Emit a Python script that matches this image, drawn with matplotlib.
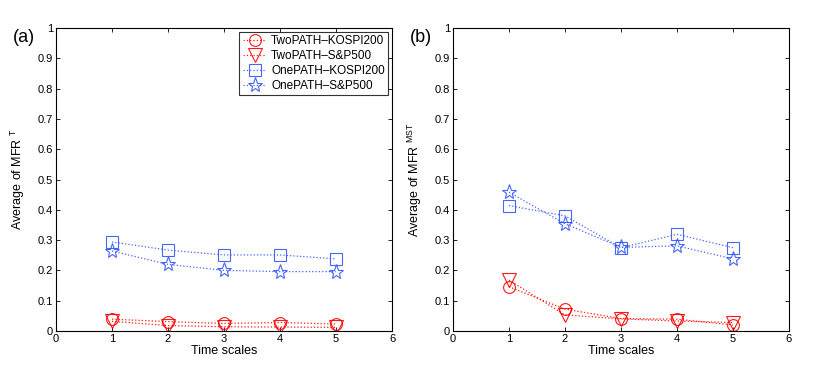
import matplotlib
matplotlib.use("Agg")
import matplotlib.pyplot as plt

plt.rcParams['font.family'] = ['Liberation Sans', 'DejaVu Sans']

scales = [1, 2, 3, 4, 5]
xticks = [0, 1, 2, 3, 4, 5, 6]
yticks = [0, 0.1, 0.2, 0.3, 0.4, 0.5, 0.6, 0.7, 0.8, 0.9, 1]
ytick_labels = ['0', '0.1', '0.2', '0.3', '0.4', '0.5', '0.6', '0.7', '0.8', '0.9', '1']

series_names = ['TwoPATH\u2013KOSPI200', 'TwoPATH\u2013S&P500',
                'OnePATH\u2013KOSPI200', 'OnePATH\u2013S&P500']

# panel (a): MFR^T
a_two_kospi = [0.039, 0.031, 0.025, 0.028, 0.023]
a_two_sp = [0.032, 0.018, 0.014, 0.013, 0.012]
a_one_kospi = [0.294, 0.267, 0.251, 0.251, 0.238]
a_one_sp = [0.264, 0.220, 0.200, 0.196, 0.196]

# panel (b): MFR^MST
b_two_kospi = [0.146, 0.072, 0.041, 0.039, 0.020]
b_two_sp = [0.168, 0.053, 0.040, 0.033, 0.028]
b_one_kospi = [0.414, 0.380, 0.275, 0.319, 0.275]
b_one_sp = [0.458, 0.354, 0.276, 0.281, 0.238]

styles = [
    dict(color='red', marker='o', ms=8.5),
    dict(color='red', marker='v', ms=9.5),
    dict(color='#3355ff', marker='s', ms=8),
    dict(color='#3355ff', marker='*', ms=11),
]

fig = plt.figure(figsize=(8.3, 3.72), dpi=100)
ax_a = fig.add_axes([56 / 830, 1 - 331 / 372, 336 / 830, 303 / 372])
ax_b = fig.add_axes([453 / 830, 1 - 331 / 372, 336 / 830, 303 / 372])

panels = [
    (ax_a, [a_two_kospi, a_two_sp, a_one_kospi, a_one_sp], 'Average of MFR $^{\\mathregular{T}}$', '(a)'),
    (ax_b, [b_two_kospi, b_two_sp, b_one_kospi, b_one_sp], 'Average of MFR $^{\\mathregular{MST}}$', '(b)'),
]

for ax, data, ylab, tag in panels:
    for vals, name, st in zip(data, series_names, styles):
        ax.plot(scales, vals, linestyle=':', linewidth=0.9, color=st['color'],
                marker=st['marker'], markersize=st['ms'], markerfacecolor='none',
                markeredgecolor=st['color'], markeredgewidth=0.8, label=name, alpha=0.9)
    ax.set_xlim(0, 6)
    ax.set_ylim(0, 1)
    ax.set_xticks(xticks)
    ax.set_yticks(yticks)
    ax.set_yticklabels(ytick_labels)
    ax.tick_params(direction='in', length=3, labelsize=8, top=True, right=True, width=0.6, pad=2)
    for sp in ax.spines.values():
        sp.set_linewidth(0.8)
    ax.set_xlabel('Time scales', fontsize=9, labelpad=1)
    ax.set_ylabel(ylab, fontsize=9, labelpad=8)
    ax.text(-0.095, 0.97, tag, transform=ax.transAxes, fontsize=13, ha='center', va='center')

leg = ax_a.legend(loc='upper right', fontsize=8.5, frameon=True, fancybox=False,
                  edgecolor='black', borderaxespad=0.3, handlelength=2.0,
                  handletextpad=0.4, labelspacing=0.25, borderpad=0.3)
leg.get_frame().set_linewidth(0.8)

fig.savefig('out.png', dpi=100)
